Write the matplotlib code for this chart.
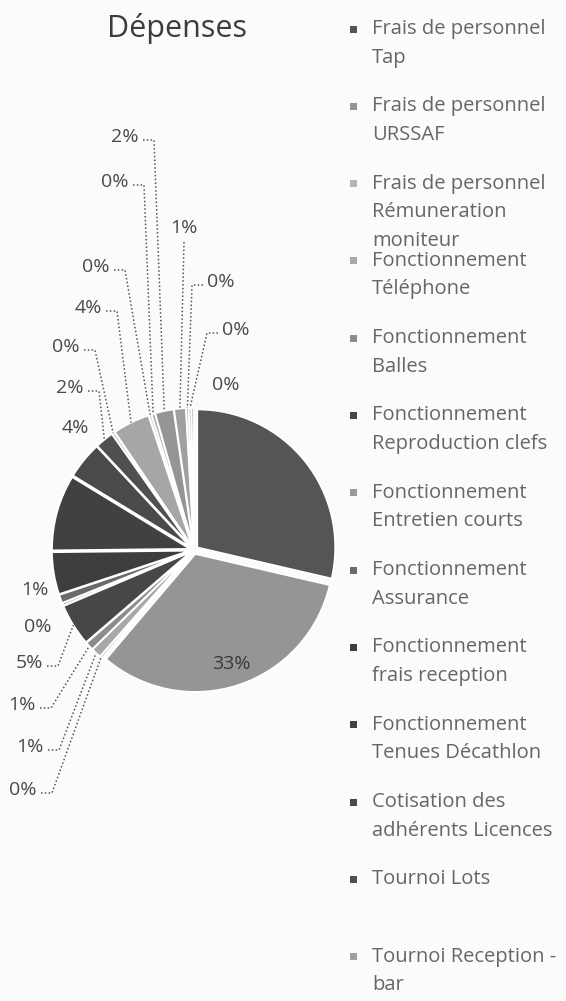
import matplotlib
matplotlib.use("Agg")
import matplotlib.pyplot as plt
import numpy as np

# ---------------- data ----------------
legend_labels = [
    "Frais de personnel\nTap",
    "Frais de personnel\nURSSAF",
    "Frais de personnel\nRémuneration\nmoniteur",
    "Fonctionnement\nTéléphone",
    "Fonctionnement\nBalles",
    "Fonctionnement\nReproduction clefs",
    "Fonctionnement\nEntretien courts",
    "Fonctionnement\nAssurance",
    "Fonctionnement\nfrais reception",
    "Fonctionnement\nTenues Décathlon",
    "Cotisation des\nadhérents Licences",
    "Tournoi Lots",
    "Tournoi Reception -\nbar",
]
# slice shares (percent), clockwise from 12 o'clock
values = [29.0, 33.0, 0.3, 1.2, 1.0, 5.0, 0.3, 1.0, 5.0, 9.0,
          4.4, 2.2, 0.3, 4.4, 0.3, 0.4, 2.2, 1.4, 0.3, 0.3, 0.3]
title = "Dépenses"

# ---------------- style / layout ----------------
W, H = 566, 1001
CX, CY, R = 194, 550, 138          # pie centre (px, y down) and radius (px)
colors = ["#555555", "#959595", "#b5b5b5", "#a8a8a8", "#8c8c8c", "#474747",
          "#9a9a9a", "#6a6a6a", "#3e3e3e", "#414141", "#4a4a4a", "#505050",
          "#a0a0a0", "#a6a6a6", "#b8b8b8", "#a5a5a5", "#959595", "#a0a0a0",
          "#aaaaaa", "#aaaaaa", "#aaaaaa"]
# label text centres (px, y down); None = label not visible; "in" = inside
label_pos = [None, "in", (23, 790), (30, 747), (22, 705), (29, 663),
             (38, 627), (35, 590), None, None,
             (75, 428), (70, 388), (66, 347), (88, 308), (96, 267),
             (115, 182), (125, 137), (184, 228), (221, 282), (236, 330),
             (226, 385)]
FONT = "Open Sans"
TXT = "#4a4a4a"

fig = plt.figure(figsize=(W / 100, H / 100), dpi=100)
fig.patch.set_facecolor("#fbfbfb")
ax = fig.add_axes([0, 0, 1, 1])


def d(x, y):
    """pixel (y down) -> data coords of the pie axes (unit = radius)."""
    return (x - CX) / R, (CY - y) / R


def p(xd, yd):
    return CX + xd * R, CY - yd * R


wedges, _ = ax.pie(values, colors=colors, startangle=90, counterclock=False,
                   radius=1.0, explode=[0.03] * len(values),
                   wedgeprops=dict(edgecolor="white", linewidth=1.3))
ax.set_xlim(d(0, 0)[0], d(W, 0)[0])
ax.set_ylim(d(0, H)[1], d(0, 0)[1])
ax.set_aspect("equal")
ax.axis("off")

total = sum(values)
for i, (w, v) in enumerate(zip(wedges, values)):
    pos = label_pos[i]
    if pos is None:
        continue
    txt = f"{round(v / total * 100)}%"
    th = np.deg2rad((w.theta1 + w.theta2) / 2)
    cx, cy = w.center
    if pos == "in":
        ax.text(cx + 0.84 * np.cos(th), cy + 0.84 * np.sin(th), txt,
                ha="center", va="center", fontsize=14, family=FONT,
                color="#3a3a3a")
        continue
    lx, ly = pos
    ax.text(*d(lx, ly), txt, ha="center", va="center", fontsize=14,
            family=FONT, color=TXT)
    ax_, ay_ = p(cx + w.r * np.cos(th), cy + w.r * np.sin(th))
    dist = np.hypot(ax_ - lx, ay_ - ly)
    if dist < 45:
        continue
    half = 15
    if abs(ax_ - lx) < 12:
        pts = [(lx, ly + 14), (ax_, ay_)]
    elif lx < ax_:
        pts = [(lx + half + 3, ly + 3), (lx + half + 14, ly + 3), (ax_, ay_)]
    else:
        pts = [(lx - half - 3, ly + 3), (lx - half - 14, ly + 3), (ax_, ay_)]
    xs, ys = zip(*[d(*q) for q in pts])
    ax.plot(xs, ys, ls=(0, (1, 1.5)), lw=1.1, color="#555555")

# title
ax.text(*d(177, 28), title, ha="center", va="center", fontsize=22,
        family=FONT, color="#3c3c3c")

# legend (manual, one entry per first 13 slices)
y0, step, lsp = 29, 77.3, 28.5
for k, lab in enumerate(legend_labels):
    ey = y0 + step * k
    x0, y1 = d(350, ey + 3.5)
    x1, y2 = d(357, ey - 3.5)
    ax.add_patch(plt.Rectangle((x0, y1), x1 - x0, y2 - y1,
                               facecolor=wedges[k].get_facecolor(),
                               edgecolor="none"))
    for j, line in enumerate(lab.split("\n")):
        ax.text(*d(372, ey + lsp * j), line, ha="left", va="center",
                fontsize=14.5, family=FONT, color="#666666")

fig.savefig("out.png", dpi=100, facecolor=fig.get_facecolor())
